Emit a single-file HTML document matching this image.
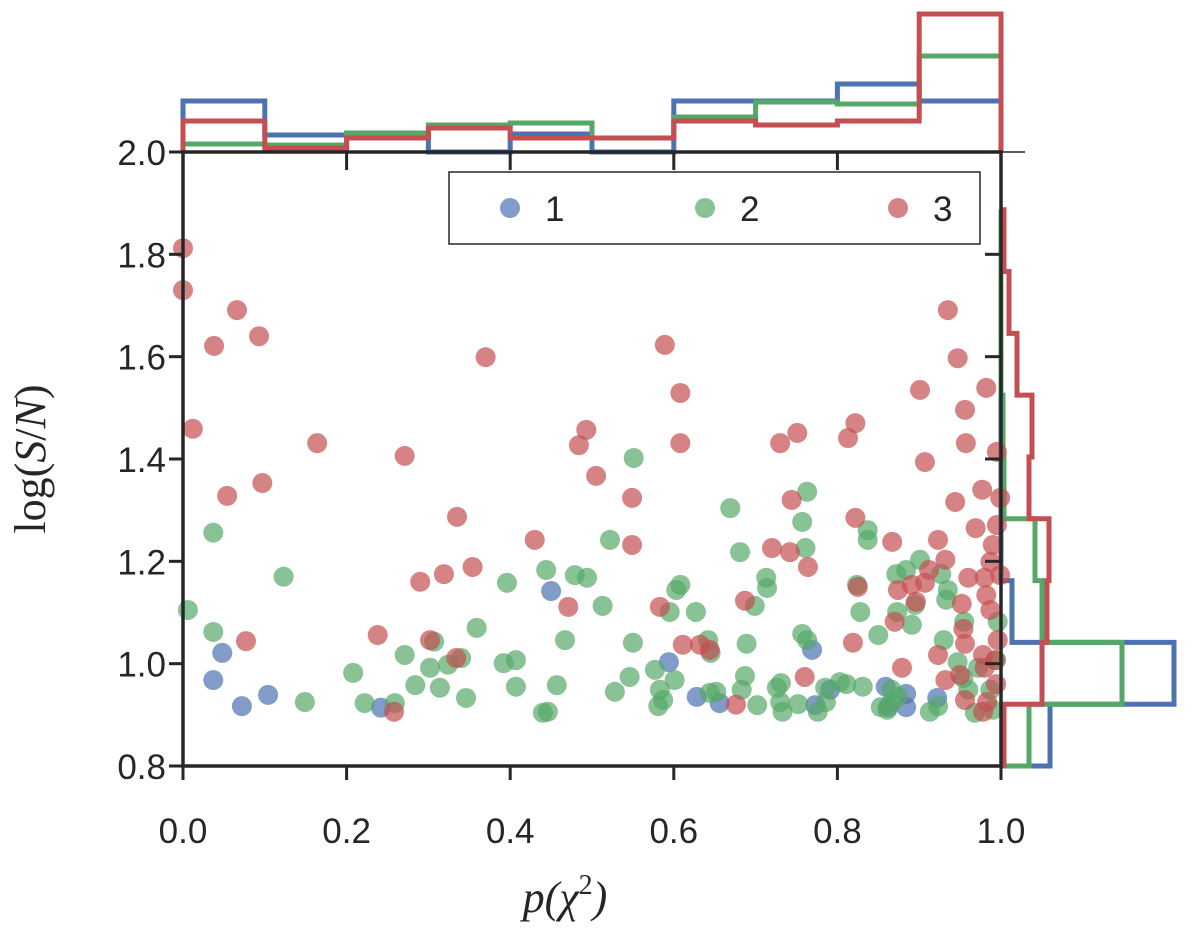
<!DOCTYPE html>
<html><head><meta charset="utf-8"><style>
html,body{margin:0;padding:0;background:#fff}
svg text{font-family:"Liberation Sans",sans-serif;fill:#262626}
</style></head><body>
<svg id="chart" width="1200" height="924" viewBox="0 0 1200 924" xmlns="http://www.w3.org/2000/svg">
<g id="hists"></g>
<g id="pts"></g>
<g id="axes"></g>
<g>
<rect x="449" y="172" width="531" height="72" fill="#fff" stroke="#262626" stroke-width="1.5"/>
<circle cx="510" cy="208" r="10" fill="#4C72B0" fill-opacity="0.7"/>
<text x="545" y="221" font-size="35">1</text>
<circle cx="705" cy="208" r="10" fill="#55A868" fill-opacity="0.7"/>
<text x="740" y="221" font-size="35">2</text>
<circle cx="898" cy="208" r="10" fill="#C44E52" fill-opacity="0.7"/>
<text x="933" y="221" font-size="35">3</text>
</g>
<text x="565" y="912" text-anchor="middle" font-size="44" style="font-family:'Liberation Serif',serif;font-style:italic">p(χ<tspan dy="-18" font-size="28" font-style="normal">2</tspan><tspan dy="18">)</tspan></text>
<text transform="translate(45,459) rotate(-90)" text-anchor="middle" font-size="44" style="font-family:'Liberation Serif',serif">log(<tspan font-style="italic">S</tspan>/<tspan font-style="italic">N</tspan>)</text>
</svg>
<script>
const blueX=[0.037,0.048,0.072,0.104,0.242,0.450,0.594,0.628,0.656,0.769,0.773,0.791,0.859,0.862,0.884,0.884,0.922];
const blueY=[0.968,1.021,0.917,0.939,0.914,1.142,1.003,0.935,0.923,1.027,0.919,0.949,0.955,0.915,0.941,0.915,0.933];
const greenX=[0.006,0.037,0.037,0.123,0.149,0.208,0.222,0.259,0.271,0.284,0.307,0.302,0.346,0.314,0.324,0.340,0.359,0.407,0.392,0.396,0.407,0.440,0.446,0.457,0.467,0.444,0.494,0.522,0.513,0.479,0.528,0.551,0.550,0.546,0.577,0.583,0.587,0.581,0.608,0.595,0.603,0.627,0.601,0.642,0.645,0.644,0.652,0.689,0.687,0.683,0.702,0.669,0.681,0.699,0.714,0.713,0.757,0.763,0.757,0.761,0.763,0.730,0.726,0.733,0.731,0.752,0.776,0.786,0.785,0.803,0.811,0.824,0.828,0.831,0.837,0.837,0.850,0.853,0.861,0.866,0.866,0.872,0.873,0.891,0.884,0.901,0.913,0.923,0.933,0.930,0.927,0.935,0.955,0.947,0.954,0.972,0.960,0.968,0.987,0.990,0.996,0.994,0.874,0.895];
const greenY=[1.105,1.256,1.062,1.170,0.925,0.982,0.923,0.923,1.017,0.958,1.043,0.992,0.933,0.953,0.998,1.011,1.070,0.955,1.001,1.158,1.007,0.904,0.906,0.958,1.046,1.183,1.168,1.242,1.113,1.173,0.945,1.402,1.041,0.974,0.988,0.949,0.929,0.917,1.154,1.101,1.144,1.101,0.968,1.046,1.021,0.943,0.945,1.039,0.976,0.949,0.919,1.304,1.218,1.113,1.148,1.168,1.058,1.336,1.277,1.226,1.046,0.925,0.953,0.906,0.962,0.921,0.906,0.925,0.953,0.964,0.960,1.154,1.101,0.955,1.261,1.242,1.056,0.915,0.910,0.925,0.949,1.175,1.101,1.076,1.183,1.203,0.906,0.917,1.125,1.046,1.175,1.144,1.082,1.003,0.972,0.992,0.949,0.904,0.949,0.910,1.082,1.007,0.935,1.115];
const redX=[0.000,0.000,0.066,0.038,0.093,0.012,0.054,0.097,0.164,0.077,0.271,0.370,0.589,0.608,0.608,0.493,0.484,0.505,0.549,0.549,0.430,0.335,0.354,0.290,0.319,0.238,0.302,0.334,0.258,0.471,0.583,0.611,0.632,0.644,0.687,0.676,0.730,0.751,0.744,0.935,0.947,0.901,0.956,0.957,0.907,0.982,0.995,0.822,0.813,0.720,0.742,0.822,0.825,0.819,0.764,0.760,0.944,0.977,0.995,0.969,0.923,0.912,0.896,0.907,0.932,0.960,0.952,0.980,0.987,0.954,0.956,0.987,0.996,0.978,0.923,0.932,0.950,0.980,0.994,0.983,0.956,0.993,0.870,0.874,0.891,0.982,0.990,0.867,0.879,0.978,0.999,0.999];
const redY=[1.812,1.730,1.691,1.621,1.640,1.459,1.328,1.353,1.431,1.044,1.406,1.599,1.623,1.529,1.431,1.457,1.427,1.367,1.324,1.232,1.242,1.287,1.189,1.160,1.175,1.056,1.046,1.011,0.906,1.111,1.111,1.037,1.037,1.027,1.123,0.920,1.431,1.451,1.320,1.691,1.597,1.535,1.496,1.431,1.394,1.539,1.414,1.470,1.441,1.226,1.218,1.285,1.150,1.041,1.189,0.974,1.316,1.340,1.271,1.265,1.242,1.183,1.121,1.158,1.203,1.168,1.117,1.168,1.199,1.068,1.039,1.105,1.046,1.017,1.017,0.968,0.978,0.992,0.960,0.925,0.929,1.007,1.082,1.144,1.154,1.134,1.232,1.238,0.992,0.906,1.173,1.324];
// top histogram (p bins of 0.1), heights in count units
const topBlue=[51,17,19,0,18,0,51,51,68,51];
const topGreen=[8,7,19,27,29,14,35,50,48,96];
const topRed=[31,4,14,24,14,14,31,27,31,138];
// right histogram (log S/N bins from 0.80, width 0.1208), lengths in count units
const rightBlue=[49,173,11,0,0,0,0,0,0];
const rightGreen=[28,121,41,34,3,2,0,0,0];
const rightRed=[3,41,46,48,28,31,16,8,3];
const xTicks=["0.0","0.2","0.4","0.6","0.8","1.0"];
const yTicks=["0.8","1.0","1.2","1.4","1.6","1.8","2.0"];

const NS="http://www.w3.org/2000/svg";
const X0=183,X1=1001,Y0=766,Y1=152;
const sx=p=>X0+p*(X1-X0);
const sy=v=>Y0-(v-0.8)/1.2*(Y0-Y1);
const th=c=>Y1-c; const rw=c=>X1+c;
function mk(tag,parent,attrs){const e=document.createElementNS(NS,tag);for(const k in attrs)e.setAttribute(k,attrs[k]);parent.appendChild(e);return e;}
const pts=document.getElementById('pts'),hists=document.getElementById('hists'),axes=document.getElementById('axes');
const series=[["blue",blueX,blueY,"#4C72B0"],["green",greenX,greenY,"#55A868"],["red",redX,redY,"#C44E52"]];
series.forEach(([n,xs,ys,c])=>{xs.forEach((x,i)=>{
 const e=mk('circle',pts,{cx:sx(x),cy:sy(ys[i]),r:10,fill:c,'fill-opacity':0.7});
 
 
});});
const topS=[["blue",topBlue,"#4C72B0"],["green",topGreen,"#55A868"],["red",topRed,"#C44E52"]];
topS.forEach(([n,h,c])=>{let d="M"+sx(0)+","+Y1;h.forEach((v,i)=>{d+=" L"+sx(i*0.1)+","+th(v)+" L"+sx((i+1)*0.1)+","+th(v);});d+=" L"+sx(1)+","+Y1;
 const e=mk('path',hists,{d:d,fill:'none',stroke:c,'stroke-width':5});
 
 
});
const rS=[["blue",rightBlue,"#4C72B0"],["green",rightGreen,"#55A868"],["red",rightRed,"#C44E52"]];
rS.forEach(([n,h,c])=>{const b=v=>sy(0.8+v*0.1208);let d="M"+X1+","+b(0);h.forEach((v,i)=>{d+=" L"+rw(v)+","+b(i)+" L"+rw(v)+","+b(i+1);});d+=" L"+X1+","+b(h.length);
 const e=mk('path',hists,{d:d,fill:'none',stroke:c,'stroke-width':5});
 
 
});
let a=mk('rect',axes,{x:X0,y:Y1,width:X1-X0,height:Y0-Y1,fill:'none',stroke:'#262626','stroke-width':3.5});


a=mk('line',axes,{x1:X1,y1:Y1,x2:1025,y2:Y1,stroke:'#262626','stroke-width':1.5});


xTicks.forEach((t,i)=>{const x=sx(i*0.2);
 mk('line',axes,{x1:x,y1:Y0,x2:x,y2:Y0+14,stroke:'#262626','stroke-width':3});
 mk('line',axes,{x1:x,y1:Y1,x2:x,y2:Y1+18,stroke:'#262626','stroke-width':3});
 const e=mk('text',axes,{x:x,y:843,'text-anchor':'middle','font-size':35});e.textContent=t;
 
 
});
yTicks.forEach((t,i)=>{const y=sy(0.8+i*0.2);
 mk('line',axes,{x1:X0-14,y1:y,x2:X0,y2:y,stroke:'#262626','stroke-width':3});
 mk('line',axes,{x1:X1-16,y1:y,x2:X1,y2:y,stroke:'#262626','stroke-width':3});
 const e=mk('text',axes,{x:166,y:y+13,'text-anchor':'end','font-size':35});e.textContent=t;
 
 
});
</script>
</body></html>
